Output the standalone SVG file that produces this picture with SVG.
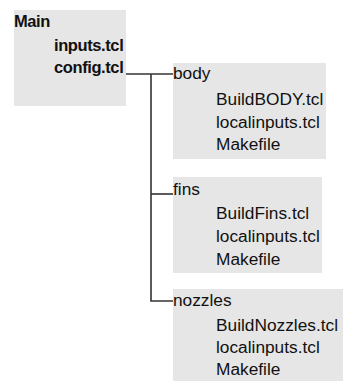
<svg xmlns="http://www.w3.org/2000/svg" width="346" height="381" viewBox="0 0 346 381">
<style>
.box{fill:#e6e6e6;stroke:none}
.t{font-family:"Liberation Sans",Arial,sans-serif;font-size:17.3px;fill:#111}
.m{font-family:"Liberation Sans",Arial,sans-serif;font-size:16.5px;font-weight:bold;fill:#111;letter-spacing:-0.4px}
.c{fill:none;stroke:#333;stroke-width:1.6}
</style>
<rect width="346" height="381" fill="#fff"/>
<g id="main">
<rect class="box" x="14" y="10" width="112" height="96"/>
<text class="m" x="14" y="27">Main</text>
<text class="m" x="54" y="51">inputs.tcl</text>
<text class="m" x="54" y="73">config.tcl</text>
</g>
<g id="body">
<rect class="box" x="173" y="63" width="153" height="96"/>
<text class="t" x="173" y="79">body</text>
<text class="t" x="216" y="105">BuildBODY.tcl</text>
<text class="t" x="216" y="128">localinputs.tcl</text>
<text class="t" x="216" y="150">Makefile</text>
</g>
<g id="fins">
<rect class="box" x="173" y="177" width="149" height="96"/>
<text class="t" x="173" y="195">fins</text>
<text class="t" x="216" y="219">BuildFins.tcl</text>
<text class="t" x="216" y="242">localinputs.tcl</text>
<text class="t" x="216" y="265">Makefile</text>
</g>
<g id="nozzles">
<rect class="box" x="173" y="289" width="170" height="92"/>
<text class="t" x="173" y="306">nozzles</text>
<text class="t" x="216" y="331">BuildNozzles.tcl</text>
<text class="t" x="216" y="353">localinputs.tcl</text>
<text class="t" x="216" y="375">Makefile</text>
</g>
<g id="connectors">
<path class="c" d="M126,74 H173"/>
<path class="c" d="M151,74 V301 H173"/>
<path class="c" d="M151,194 H173"/>
</g>
</svg>
